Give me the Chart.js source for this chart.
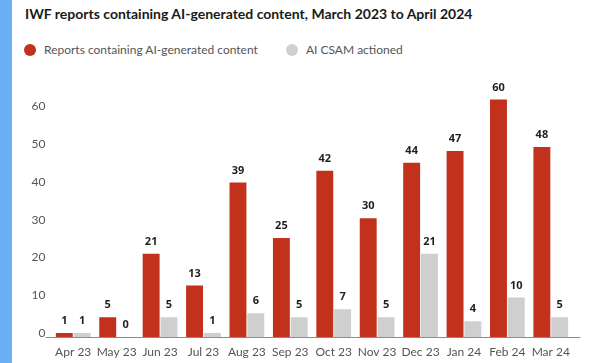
<!DOCTYPE html>
<html>
<head>
<meta charset="utf-8">
<script src="https://cdn.jsdelivr.net/npm/chart.js@4"></script>
<style>
  html, body { margin: 0; padding: 0; background: #fff; }
  body { width: 589px; height: 363px; position: relative; overflow: hidden; font-family: Lato, "Open Sans", sans-serif; }
  #strip { position: absolute; left: 0; top: 0; width: 12px; height: 363px; background: #6aaef5; }
  #title { position: absolute; left: 25px; top: 5px; font-weight: 700; font-size: 14px; color: #1a1a1a; white-space: nowrap; }
  #legend { position: absolute; left: 24px; top: 42px; font-size: 12px; color: #555; white-space: nowrap; display: flex; align-items: center; }
  .dot { display: inline-block; width: 12px; height: 12px; border-radius: 50%; margin-right: 8px; }
  .item { display: flex; align-items: center; }
  #wrap { position: absolute; left: 12px; top: 60px; width: 577px; height: 303px; }
</style>
</head>
<body>
<div id="strip"></div>
<div id="title">IWF reports containing AI-generated content, March 2023 to April 2024</div>
<div id="legend">
  <div class="item"><span class="dot" style="background:#c1311c"></span><span>Reports containing AI-generated content</span></div>
  <div class="item" style="margin-left:28px"><span class="dot" style="background:#cfcfcf"></span><span>AI CSAM actioned</span></div>
</div>
<div id="wrap"><canvas id="c" width="577" height="303"></canvas></div>
<script>
const categories = ["Apr 23","May 23","Jun 23","Jul 23","Aug 23","Sep 23","Oct 23","Nov 23","Dec 23","Jan 24","Feb 24","Mar 24"];
const reportsAI = [1,5,21,13,39,25,42,30,44,47,60,48];
const csamActioned = [1,0,5,1,6,5,7,5,21,4,10,5];
const yTicks = [0,10,20,30,40,50,60];

const valueLabels = {
  id: 'valueLabels',
  afterDatasetsDraw(chart) {
    const ctx = chart.ctx;
    ctx.save();
    ctx.font = 'bold 11px "Open Sans", Lato, sans-serif';
    ctx.fillStyle = '#1f1f1f';
    ctx.textAlign = 'center';
    ctx.textBaseline = 'middle';
    chart.data.datasets.forEach((ds, i) => {
      chart.getDatasetMeta(i).data.forEach((bar, j) => {
        ctx.fillText(String(ds.data[j]), bar.x, bar.y - 12);
      });
    });
    ctx.restore();
  }
};
const baseline = {
  id: 'baseline',
  afterDatasetsDraw(chart) {
    const ctx = chart.ctx, a = chart.chartArea;
    const y = Math.round(chart.scales.y.getPixelForValue(0)) + 0.5;
    ctx.save();
    ctx.strokeStyle = '#8c8c8c';
    ctx.lineWidth = 1;
    ctx.beginPath();
    ctx.moveTo(a.left - 6, y);
    ctx.lineTo(a.right + 8, y);
    ctx.stroke();
    ctx.restore();
  }
};

new Chart(document.getElementById('c'), {
  type: 'bar',
  data: {
    labels: categories,
    datasets: [
      { label: 'Reports containing AI-generated content', data: reportsAI, backgroundColor: '#c1311c', categoryPercentage: 0.82, barPercentage: 0.95, yAxisID: 'y' },
      { label: 'AI CSAM actioned', data: csamActioned, backgroundColor: '#cfcfcf', categoryPercentage: 0.82, barPercentage: 0.95, yAxisID: 'y' }
    ]
  },
  options: {
    responsive: false,
    animation: false,
    layout: { padding: { top: 20, right: 16.5, bottom: 4, left: 0 } },
    plugins: { legend: { display: false }, title: { display: false }, tooltip: { enabled: false } },
    scales: {
      x: {
        grid: { display: false, drawTicks: false, tickLength: 0 },
        border: { display: false },
        ticks: { color: '#555', font: { family: 'Lato', size: 12 }, padding: 8, maxRotation: 0, autoSkip: false },
        afterFit(s) { s.height = 22; }
      },
      y: {
        display: false,
        min: 0, max: 64.9
      },
      yLabels: {
        position: 'left',
        min: -1.06, max: 66.96,
        grid: { display: false, drawTicks: false, tickLength: 0 },
        border: { display: false },
        ticks: { color: '#555', font: { family: 'Lato', size: 12 }, padding: 6 },
        afterBuildTicks(s) { s.ticks = yTicks.map(v => ({ value: v })); },
        afterFit(s) { s.width = 39.5; }
      }
    }
  },
  plugins: [valueLabels, baseline]
});
</script>
</body>
</html>
